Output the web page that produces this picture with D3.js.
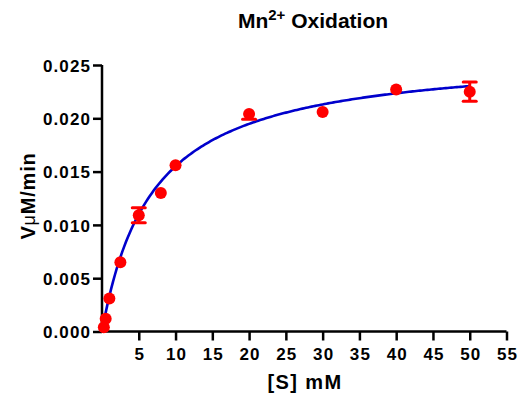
<!DOCTYPE html>
<html><head><meta charset="utf-8">
<script src="https://cdn.jsdelivr.net/npm/d3@7"></script>
<style>body{margin:0;background:#fff}svg{display:block}</style>
</head><body>
<svg id="c" width="521" height="399"></svg>
<script>
const substrate = [0.25, 0.5, 1, 2.5, 5, 8, 10, 20, 30, 40, 50];
const velocity  = [0.0004, 0.0012, 0.0031, 0.0065, 0.0109, 0.0130, 0.0156, 0.0204, 0.0206, 0.0227, 0.0225];
const errLow    = [0, 0, 0, 0, 0.0007, 0, 0, 0.0005, 0, 0, 0.0009];
const errHigh   = [0, 0, 0, 0, 0.0007, 0, 0, 0, 0, 0, 0.0009];
const fitVmax = 0.0262, fitKm = 6.9;
const xTicks = [5,10,15,20,25,30,35,40,45,50,55];
const yTicks = [0, 0.005, 0.010, 0.015, 0.020, 0.025];

const svg = d3.select("#c");
const x = d3.scaleLinear().domain([0,55]).range([102,506.5]);
const y = d3.scaleLinear().domain([0,0.025]).range([331.5,65]);
const font = "Arial, 'Liberation Sans', sans-serif";

// axes
const xa = svg.append("g").attr("transform","translate(0,331.5)")
  .call(d3.axisBottom(x).tickValues(xTicks).tickSize(9).tickSizeOuter(0).tickPadding(7));
const ya = svg.append("g").attr("transform","translate(102,0)")
  .call(d3.axisLeft(y).tickValues(yTicks).tickFormat(d3.format(".3f")).tickSize(9).tickSizeOuter(0).tickPadding(2));
[xa,ya].forEach(a=>{
  a.select(".domain").attr("stroke","#000").attr("stroke-width",2.5);
  a.selectAll(".tick line").attr("stroke","#000").attr("stroke-width",2.5);
  a.selectAll("text").attr("font-family",font).attr("font-weight","bold").attr("font-size",17)
    .attr("letter-spacing","1.1px").attr("fill","#000");
});
xa.select(".domain").attr("d",`M${x(0)-1.25},0H${x(55)}`);
ya.select(".domain").attr("d",`M0,${y(0)+1.25}V${y(0.025)}`);
ya.selectAll(".tick text").attr("dy","0.36em");
xa.selectAll(".tick text").attr("dx","0.5px");

// fit curve
const xs = d3.range(0.0, 50.001, 0.25);
svg.append("path")
  .datum(xs)
  .attr("fill","none").attr("stroke","#0000cc").attr("stroke-width",2.6)
  .attr("d", d3.line().x(d=>x(d)).y(d=>y(fitVmax*d/(fitKm+d))));

// error bars
const pts = substrate.map((s,i)=>({s, v:velocity[i], lo:errLow[i], hi:errHigh[i]}));
const eb = svg.append("g").attr("stroke","#ff0000").attr("stroke-width",3);
pts.filter(p=>p.lo>0||p.hi>0).forEach(p=>{
  eb.append("line").attr("x1",x(p.s)).attr("x2",x(p.s)).attr("y1",y(p.v-p.lo)).attr("y2",y(p.v+p.hi));
  const caps = [];
  if (p.lo>0) caps.push(p.v-p.lo);
  if (p.hi>0) caps.push(p.v+p.hi);
  caps.forEach(v=>eb.append("line").attr("x1",x(p.s)-6.5).attr("x2",x(p.s)+6.5).attr("y1",y(v)).attr("y2",y(v)).attr("stroke-linecap","round"));
});
// points
svg.append("g").selectAll("circle").data(pts).join("circle")
  .attr("cx",d=>x(d.s)).attr("cy",d=>y(d.v)).attr("r",6).attr("fill","#ff0000");

// title
const t = svg.append("text").attr("x",313).attr("y",28).attr("text-anchor","middle")
  .attr("font-family",font).attr("font-weight","bold").attr("font-size",21).attr("fill","#000");
t.append("tspan").text("Mn");
t.append("tspan").attr("dy",-8).attr("font-size",15).text("2+");
t.append("tspan").attr("dy",8).text(" Oxidation");

// axis titles
svg.append("text").attr("x",305).attr("y",389).attr("text-anchor","middle")
  .attr("font-family",font).attr("font-weight","bold").attr("font-size",20)
  .attr("letter-spacing","1.4px").text("[S] mM");
const yt = svg.append("text").attr("transform","translate(35,196) rotate(-90)").attr("text-anchor","middle")
  .attr("font-family",font).attr("font-weight","bold").attr("font-size",20).attr("letter-spacing","0.8px");
yt.append("tspan").text("V");
yt.append("tspan").attr("font-weight","normal").attr("font-size",18).text("μ");
yt.append("tspan").text("M/min");
</script>
</body></html>
